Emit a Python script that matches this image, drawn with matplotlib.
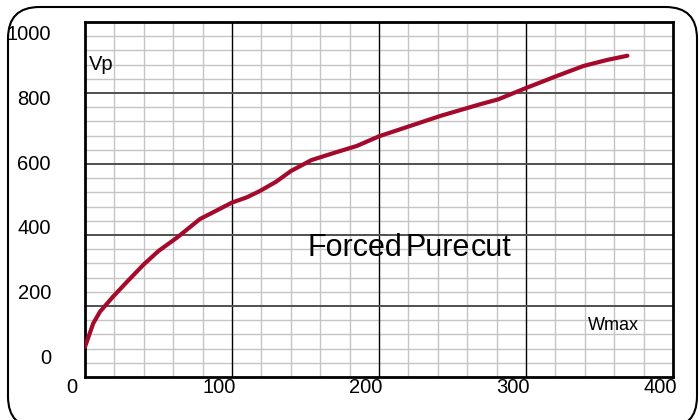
import matplotlib
matplotlib.use("Agg")
import matplotlib.pyplot as plt
from matplotlib.patches import FancyBboxPatch
from matplotlib.transforms import ScaledTranslation, blended_transform_factory

plt.rcParams["font.family"] = ["Liberation Sans", "DejaVu Sans"]

# curve
wmax = [0, 5.6, 10.2, 19, 29, 39.7, 50, 62.4, 78.2, 90, 99.8, 110, 119, 130, 140,
        154, 170, 185, 200, 221.8, 242.2, 269.4, 281, 300, 321, 339, 355, 369]
vp = [85, 151, 184, 226, 270, 316, 355, 392, 445, 470, 491, 506, 524, 550, 580,
      611, 632, 651, 678, 708, 736, 769, 782, 814, 848, 876, 893, 905]

x_ticks = [0, 100, 200, 300, 400]
y_ticks = [0, 200, 400, 600, 800, 1000]

fig = plt.figure(figsize=(6.99, 4.2), dpi=100)

# rounded frame around the whole chart
frame = FancyBboxPatch((8 / 699, -8 / 420), 689 / 699, 421 / 420,
                       boxstyle="round,pad=0,rounding_size=0.045",
                       transform=fig.transFigure, fill=False,
                       edgecolor="black", linewidth=1.5, clip_on=False,
                       mutation_aspect=699 / 420)
fig.patches.append(frame)

ax = fig.add_axes([85 / 699, 1 - 377 / 420, 588 / 699, 355 / 420])
ax.set_xlim(0, 400)
ax.set_ylim(0, 1000)

# grid
for gx in range(20, 400, 20):
    if gx % 100 == 0:
        ax.axvline(gx, color="black", linewidth=1.0, zorder=1)
    else:
        ax.axvline(gx, color="#c4c4c4", linewidth=1.0, zorder=0)
for gy in range(40, 1000, 40):
    if gy % 200 == 0:
        ax.axhline(gy, color="#505050", linewidth=1.4, zorder=1)
    else:
        ax.axhline(gy, color="#c4c4c4", linewidth=1.0, zorder=0)

ax.plot(wmax, vp, color="#a50a2c", linewidth=3.0, solid_capstyle="round",
        solid_joinstyle="round", zorder=3)

for s in ax.spines.values():
    s.set_linewidth(2.0)
    s.set_color("black")

ax.tick_params(length=0)
ax.set_xticks(x_ticks)
ax.set_xticklabels([str(t) for t in x_ticks], fontsize=14.5)
ax.tick_params(axis="x", pad=1)
for lab in ax.get_xticklabels():
    lab.set_transform(lab.get_transform() + ScaledTranslation(-0.13, 0, fig.dpi_scale_trans))
ax.set_yticks([])

# y labels sit a bit off the grid lines in the original
ytr = blended_transform_factory(ax.transAxes, ax.transData)
for t in y_ticks:
    ax.text(-0.058, 53 + 0.911 * t, str(t), transform=ytr, ha="right",
            va="center", fontsize=14.5)

ax.text(2.7, 880, "Vp", fontsize=14.5, ha="left", va="center")
ax.text(342, 145, "Wmax", fontsize=13, ha="left", va="center")

# title words are packed tight in the original
for word, wx in [("Forced", 151.5), ("Pure", 218), ("cut", 262.5)]:
    ax.text(wx, 362, word, fontsize=22, ha="left", va="center")

fig.savefig("out.png", dpi=100)
